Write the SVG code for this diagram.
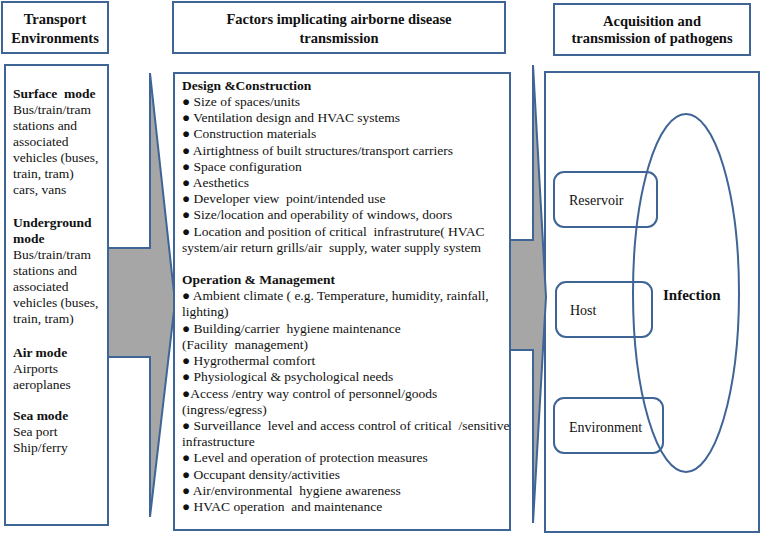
<svg xmlns="http://www.w3.org/2000/svg" width="761" height="535" viewBox="0 0 761 535">
<style>
.box{fill:#fff;stroke:#3F6496;stroke-width:2}
.ol{fill:none;stroke:#3F6496;stroke-width:2;stroke-linejoin:miter}
.gray{fill:#A6A6A6;stroke:none}
text{font-family:"Liberation Serif","Times New Roman",serif;fill:#111;white-space:pre}
.h{font-size:14.5px;font-weight:bold;text-anchor:middle}
.t{font-size:13.5px}
.b{font-weight:bold}
.n{font-size:14px}
</style>
<rect width="761" height="535" fill="#fff"/>
<g id="connectors">
<polygon class="gray" points="108,248 150,248 150,73 175,302 150,517 150,357 108,357"/>
<path class="ol" d="M108,248 H150 V73 L175,302 L150,517 V357 H108"/>
</g>
<g id="transport-header">
<rect class="box" x="2" y="2" width="106" height="51"/>
<text class="h" x="55" y="24">Transport</text>
<text class="h" x="55" y="43">Environments</text>
</g>
<g id="transport-body">
<rect class="box" x="5" y="65" width="103" height="460"/>
<text class="t" x="13" y="98"><tspan class="b">Surface  mode</tspan></text>
<text class="t" x="13" y="114">Bus/train/tram</text>
<text class="t" x="13" y="130">stations and</text>
<text class="t" x="13" y="146">associated</text>
<text class="t" x="13" y="162">vehicles (buses,</text>
<text class="t" x="13" y="178">train, tram)</text>
<text class="t" x="13" y="194">cars, vans</text>
<text class="t b" x="13" y="227">Underground</text>
<text class="t b" x="13" y="243">mode</text>
<text class="t" x="13" y="259">Bus/train/tram</text>
<text class="t" x="13" y="275">stations and</text>
<text class="t" x="13" y="291">associated</text>
<text class="t" x="13" y="307">vehicles (buses,</text>
<text class="t" x="13" y="323">train, tram)</text>
<text class="t b" x="13" y="357">Air mode</text>
<text class="t" x="13" y="373">Airports</text>
<text class="t" x="13" y="389">aeroplanes</text>
<text class="t b" x="13" y="420">Sea mode</text>
<text class="t" x="13" y="436">Sea port</text>
<text class="t" x="13" y="452">Ship/ferry</text>
</g>
<g id="acquisition-body">
<rect class="box" x="545" y="72" width="214" height="460"/>
</g>
<g id="factors-arrow">
<polygon class="gray" points="510,240 533,240 533,65 546,297 533,523 533,350 510,350"/>
<path class="ol" d="M510,240 H533 V65 L546,297 L533,523 V350 H510"/>
</g>
<g id="factors-header">
<rect class="box" x="173" y="2" width="332" height="51"/>
<text class="h" x="339" y="24">Factors implicating airborne disease</text>
<text class="h" x="339" y="43">transmission</text>
</g>
<g id="factors-body">
<rect class="box" x="174" y="73" width="336" height="457"/>
<text class="t b" x="182" y="90">Design &amp;Construction</text>
<text class="t" x="182" y="106">● Size of spaces/units</text>
<text class="t" x="182" y="122">● Ventilation design and HVAC systems</text>
<text class="t" x="182" y="138">● Construction materials</text>
<text class="t" x="182" y="155">● Airtightness of built structures/transport carriers</text>
<text class="t" x="182" y="171">● Space configuration</text>
<text class="t" x="182" y="187">● Aesthetics</text>
<text class="t" x="182" y="203">● Developer view  point/intended use</text>
<text class="t" x="182" y="219">● Size/location and operability of windows, doors</text>
<text class="t" x="182" y="236">● Location and position of critical  infrastruture( HVAC</text>
<text class="t" x="182" y="252">system/air return grills/air  supply, water supply system</text>
<text class="t b" x="182" y="284">Operation &amp; Management</text>
<text class="t" x="182" y="300">● Ambient climate ( e.g. Temperature, humidity, rainfall,</text>
<text class="t" x="182" y="316">lighting)</text>
<text class="t" x="182" y="333">● Building/carrier  hygiene maintenance</text>
<text class="t" x="182" y="349">(Facility  management)</text>
<text class="t" x="182" y="365">● Hygrothermal comfort</text>
<text class="t" x="182" y="381">● Physiological &amp; psychological needs</text>
<text class="t" x="182" y="398">●Access /entry way control of personnel/goods</text>
<text class="t" x="182" y="414">(ingress/egress)</text>
<text class="t" x="182" y="430">● Surveillance  level and access control of critical  /sensitive</text>
<text class="t" x="182" y="446">infrastructure</text>
<text class="t" x="182" y="462">● Level and operation of protection measures</text>
<text class="t" x="182" y="479">● Occupant density/activities</text>
<text class="t" x="182" y="495">● Air/environmental  hygiene awareness</text>
<text class="t" x="182" y="511">● HVAC operation  and maintenance</text>
</g>
<g id="acquisition-header">
<rect class="box" x="554" y="4" width="196" height="51"/>
<text class="h" x="652" y="26">Acquisition and</text>
<text class="h" x="652" y="43">transmission of pathogens</text>
</g>
<g id="reservoir">
<rect class="ol" x="554" y="172" width="103" height="55" rx="10"/>
<text class="n" x="569" y="205">Reservoir</text>
</g>
<g id="host">
<rect class="ol" x="556" y="282" width="96" height="55" rx="10"/>
<text class="n" x="570" y="315">Host</text>
</g>
<g id="environment">
<rect class="ol" x="554" y="398" width="109" height="55" rx="10"/>
<text class="n" x="569" y="432">Environment</text>
</g>
<g id="infection">
<ellipse class="ol" cx="686" cy="293" rx="53" ry="179"/>
<text class="t b" x="663" y="300" style="font-size:15px">Infection</text>
</g>
</svg>
